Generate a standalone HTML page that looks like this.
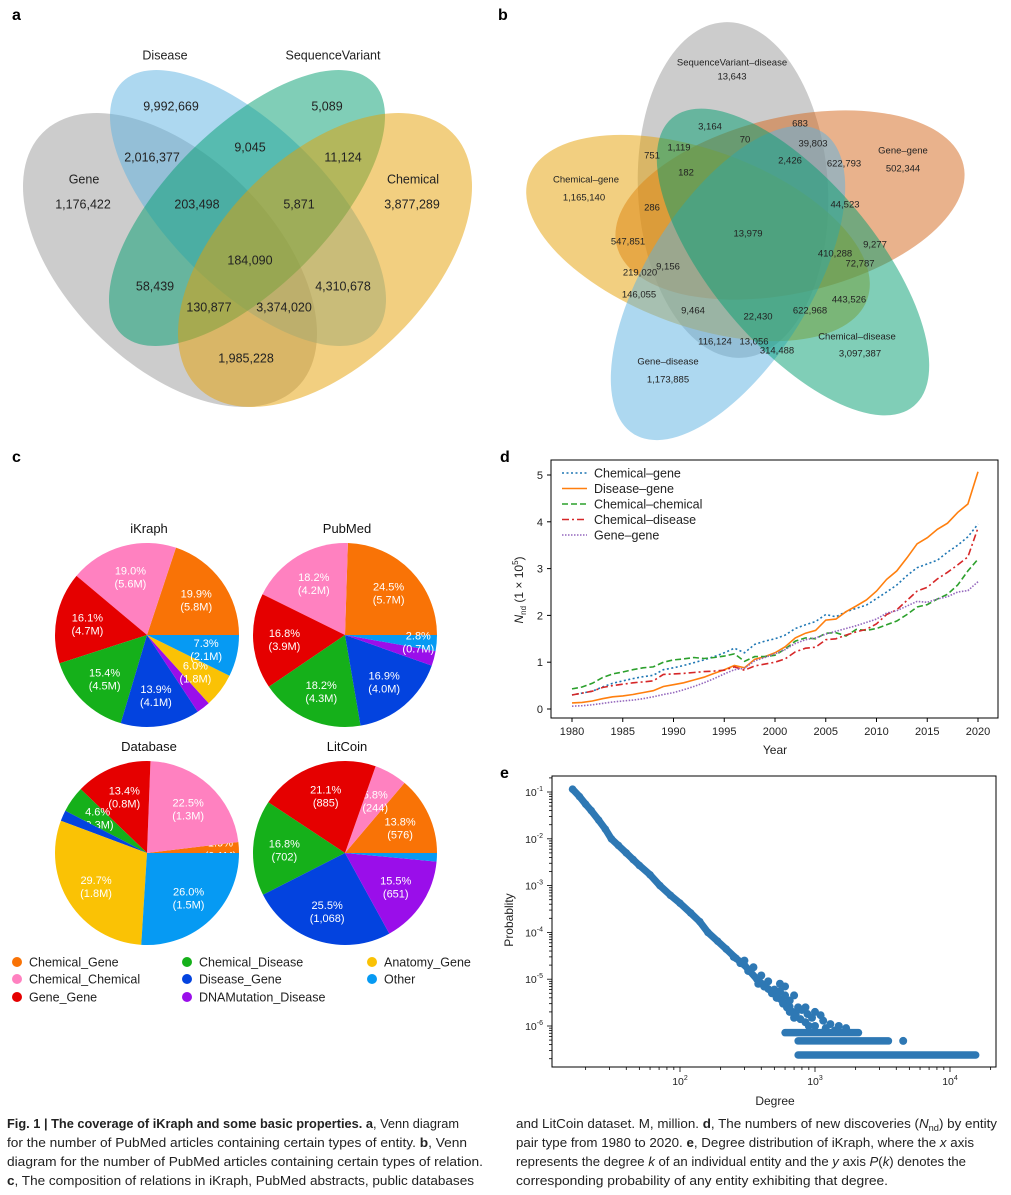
<!DOCTYPE html>
<html><head><meta charset="utf-8"><style>
body{margin:0;background:#fff;}
svg{display:block;font-family:"Liberation Sans",sans-serif;}
</style></head><body>
<svg id="fig" width="1011" height="1195" viewBox="0 0 1011 1195" xmlns="http://www.w3.org/2000/svg">
<g font-weight="bold" font-size="16" fill="#000">
<text x="12" y="20">a</text>
<text x="498" y="20">b</text>
<text x="12" y="462">c</text>
<text x="500" y="462">d</text>
<text x="500" y="778">e</text>
</g>

<!-- Venn a -->
<g>
<ellipse cx="170" cy="260" rx="180" ry="104" transform="rotate(45 170 260)" fill="#999" fill-opacity="0.5"/>
<ellipse cx="248" cy="208" rx="178" ry="80" transform="rotate(45 248 208)" fill="#5bb1e1" fill-opacity="0.5"/>
<ellipse cx="247" cy="208" rx="178" ry="80" transform="rotate(-45 247 208)" fill="#019d6f" fill-opacity="0.5"/>
<ellipse cx="325" cy="260" rx="180" ry="104" transform="rotate(-45 325 260)" fill="#e59f01" fill-opacity="0.5"/>
<g font-size="12.5" fill="#222" text-anchor="middle" dominant-baseline="middle">
<text x="165" y="56">Disease</text>
<text x="333" y="56">SequenceVariant</text>
<text x="84" y="180">Gene</text>
<text x="413" y="180">Chemical</text>
<text x="171" y="107">9,992,669</text>
<text x="327" y="107">5,089</text>
<text x="152" y="158">2,016,377</text>
<text x="250" y="148">9,045</text>
<text x="343" y="158">11,124</text>
<text x="83" y="205">1,176,422</text>
<text x="197" y="205">203,498</text>
<text x="299" y="205">5,871</text>
<text x="412" y="205">3,877,289</text>
<text x="250" y="261">184,090</text>
<text x="155" y="287">58,439</text>
<text x="343" y="287">4,310,678</text>
<text x="209" y="308">130,877</text>
<text x="284" y="308">3,374,020</text>
<text x="246" y="359">1,985,228</text>
</g></g>

<!-- Venn b -->
<g>
<ellipse cx="733" cy="190" rx="95" ry="168" transform="rotate(-3 733 190)" fill="#999" fill-opacity="0.5"/>
<ellipse cx="790" cy="205" rx="178" ry="88" transform="rotate(-13 790 205)" fill="#d4651a" fill-opacity="0.5"/>
<ellipse cx="698" cy="238" rx="180" ry="88" transform="rotate(20 698 238)" fill="#e59f01" fill-opacity="0.5"/>
<ellipse cx="728" cy="283" rx="178" ry="82" transform="rotate(-58 728 283)" fill="#5bb1e1" fill-opacity="0.5"/>
<ellipse cx="793" cy="262" rx="188" ry="82" transform="rotate(50 793 262)" fill="#019d6f" fill-opacity="0.5"/>
<g font-size="9.5" fill="#222" text-anchor="middle" dominant-baseline="middle">
<text x="732" y="63">SequenceVariant–disease</text>
<text x="732" y="77">13,643</text>
<text x="710" y="127">3,164</text>
<text x="800" y="124">683</text>
<text x="745" y="140">70</text>
<text x="813" y="144">39,803</text>
<text x="679" y="148">1,119</text>
<text x="652" y="156">751</text>
<text x="790" y="161">2,426</text>
<text x="844" y="164">622,793</text>
<text x="903" y="151">Gene–gene</text>
<text x="903" y="169">502,344</text>
<text x="686" y="173">182</text>
<text x="586" y="180">Chemical–gene</text>
<text x="584" y="198">1,165,140</text>
<text x="652" y="208">286</text>
<text x="845" y="205">44,523</text>
<text x="748" y="234">13,979</text>
<text x="628" y="242">547,851</text>
<text x="875" y="245">9,277</text>
<text x="835" y="254">410,288</text>
<text x="860" y="264">72,787</text>
<text x="668" y="267">9,156</text>
<text x="640" y="273">219,020</text>
<text x="639" y="295">146,055</text>
<text x="849" y="300">443,526</text>
<text x="693" y="311">9,464</text>
<text x="758" y="317">22,430</text>
<text x="810" y="311">622,968</text>
<text x="857" y="337">Chemical–disease</text>
<text x="860" y="354">3,097,387</text>
<text x="715" y="342">116,124</text>
<text x="754" y="342">13,056</text>
<text x="777" y="351">314,488</text>
<text x="668" y="362">Gene–disease</text>
<text x="668" y="380">1,173,885</text>
</g></g>

<g id="pies"></g>
<g id="pieLegend"></g>
<g id="lineChart"></g>
<g id="scatter"></g>

<g font-size="13" fill="#222">
<text x="7" y="1128" textLength="452" lengthAdjust="spacingAndGlyphs"><tspan font-weight="bold">Fig. 1 | The coverage of iKraph and some basic properties. a</tspan>, Venn diagram</text>
<text x="7" y="1147" textLength="460" lengthAdjust="spacingAndGlyphs">for the number of PubMed articles containing certain types of entity. <tspan font-weight="bold">b</tspan>, Venn</text>
<text x="7" y="1166" textLength="476" lengthAdjust="spacingAndGlyphs">diagram for the number of PubMed articles containing certain types of relation.</text>
<text x="7" y="1185" textLength="467" lengthAdjust="spacingAndGlyphs"><tspan font-weight="bold">c</tspan>, The composition of relations in iKraph, PubMed abstracts, public databases</text>
<text x="516" y="1128" textLength="481" lengthAdjust="spacingAndGlyphs">and LitCoin dataset. M, million. <tspan font-weight="bold">d</tspan>, The numbers of new discoveries (<tspan font-style="italic">N</tspan><tspan font-size="9" dy="3">nd</tspan><tspan dy="-3">) by entity</tspan></text>
<text x="516" y="1147" textLength="458" lengthAdjust="spacingAndGlyphs">pair type from 1980 to 2020. <tspan font-weight="bold">e</tspan>, Degree distribution of iKraph, where the <tspan font-style="italic">x</tspan> axis</text>
<text x="516" y="1166" textLength="450" lengthAdjust="spacingAndGlyphs">represents the degree <tspan font-style="italic">k</tspan> of an individual entity and the <tspan font-style="italic">y</tspan> axis <tspan font-style="italic">P</tspan>(<tspan font-style="italic">k</tspan>) denotes the</text>
<text x="516" y="1185" textLength="372" lengthAdjust="spacingAndGlyphs">corresponding probability of any entity exhibiting that degree.</text>
</g>
</svg>

<script>
const NS = "http://www.w3.org/2000/svg";
function mk(tag, attrs, parent) { const e = document.createElementNS(NS, tag); for (const k in attrs) e.setAttribute(k, attrs[k]); parent.appendChild(e); return e; }

// ===== Pie data (panel c) =====
const pieCategories = ["Chemical_Gene","Chemical_Chemical","Gene_Gene","Chemical_Disease","Disease_Gene","DNAMutation_Disease","Anatomy_Gene","Other"];
const pieColors = ["#f97306","#ff81c0","#e50000","#15b01a","#0343df","#9a0eea","#fac205","#069af3"];
const pieTitles = ["iKraph","PubMed","Database","LitCoin"];
const ikraphPct = [19.9,19.0,16.1,15.4,13.9,2.4,6.0,7.3];
const ikraphCounts = ["5.8M","5.6M","4.7M","4.5M","4.1M","","1.8M","2.1M"];
const pubmedPct = [24.5,18.2,16.8,18.2,16.9,2.6,0,2.8];
const pubmedCounts = ["5.7M","4.2M","3.9M","4.3M","4.0M","","","0.7M"];
const databasePct = [1.9,22.5,13.4,4.6,1.9,0,29.7,26.0];
const databaseCounts = ["0.1M","1.3M","0.8M","0.3M","","","1.8M","1.5M"];
const litcoinPct = [13.8,5.8,21.1,16.8,25.5,15.5,0,1.5];
const litcoinCounts = ["576","244","885","702","1,068","651","",""];

const pies = document.getElementById("pies");
const pieSets = [[ikraphPct,ikraphCounts,147,635],[pubmedPct,pubmedCounts,345,635],[databasePct,databaseCounts,147,853],[litcoinPct,litcoinCounts,345,853]];
pieSets.forEach((ps, pi) => {
  const [pct, cnt, cx, cy] = ps; const r = 92;
  const g = mk("g", {}, pies);
  
  
  const t = mk("text", {x: cx+2, y: cy - r - 10, "text-anchor": "middle", "font-size": 13, fill: "#111"}, g);
  t.textContent = pieTitles[pi];
  
  
  const total = pct.reduce((a,b)=>a+b,0);
  let a0 = 0;
  pct.forEach((v, i) => {
    if (v <= 0) return;
    const a1 = a0 + v/total*2*Math.PI;
    const x0 = cx + r*Math.cos(a0), y0 = cy - r*Math.sin(a0);
    const x1 = cx + r*Math.cos(a1), y1 = cy - r*Math.sin(a1);
    const large = (a1 - a0) > Math.PI ? 1 : 0;
    const p = mk("path", {d: `M${cx},${cy}L${x0},${y0}A${r},${r} 0 ${large} 0 ${x1},${y1}Z`, fill: pieColors[i]}, g);
    
    
    if (cnt[i]) {
      const am = (a0 + a1)/2, lr = (v < 3 ? 0.8 : 0.66) * r;
      const lx = cx + lr*Math.cos(am), ly = cy - lr*Math.sin(am);
      const tt = mk("text", {x: lx, y: ly - 2, "text-anchor": "middle", "font-size": 11, fill: "#fff"}, g);
      
      
      const s1 = mk("tspan", {x: lx, dy: 0}, tt); s1.textContent = v.toFixed(1) + "%";
      const s2 = mk("tspan", {x: lx, dy: 13}, tt); s2.textContent = "(" + cnt[i] + ")";
    }
    a0 = a1;
  });
});

// legend (column-major, 3 rows)
const pl = document.getElementById("pieLegend");
pieCategories.forEach((name, k) => {
  const col = Math.floor(k/3), row = k%3;
  const x = [17,187,372][col], y = [962,979,997][row];
  const g = mk("g", {}, pl);
  
  
  mk("circle", {cx: x, cy: y, r: 5, fill: pieColors[k]}, g);
  const t = mk("text", {x: x+12, y: y+4.5, "font-size": 12.5, fill: "#222"}, g);
  t.textContent = name;
});

// ===== Line chart (panel d) =====
const years = [1980,1981,1982,1983,1984,1985,1986,1987,1988,1989,1990,1991,1992,1993,1994,1995,1996,1997,1998,1999,2000,2001,2002,2003,2004,2005,2006,2007,2008,2009,2010,2011,2012,2013,2014,2015,2016,2017,2018,2019,2020];
const chemicalGene = [0.3,0.34,0.38,0.47,0.55,0.6,0.65,0.69,0.72,0.84,0.88,0.93,0.99,1.05,1.12,1.2,1.3,1.2,1.38,1.45,1.5,1.58,1.72,1.8,1.87,2.02,1.97,2.08,2.15,2.22,2.36,2.5,2.65,2.85,3.02,3.1,3.18,3.35,3.5,3.68,3.95];
const diseaseGene = [0.13,0.14,0.17,0.22,0.26,0.28,0.31,0.35,0.39,0.48,0.52,0.56,0.62,0.68,0.76,0.84,0.93,0.88,1.06,1.12,1.2,1.33,1.52,1.62,1.68,1.9,1.92,2.08,2.2,2.33,2.52,2.77,2.95,3.23,3.53,3.66,3.84,3.97,4.2,4.38,5.07];
const chemicalChemical = [0.43,0.47,0.55,0.67,0.75,0.79,0.84,0.88,0.9,1.0,1.05,1.07,1.1,1.08,1.1,1.13,1.18,1.02,1.12,1.12,1.15,1.28,1.45,1.52,1.5,1.62,1.63,1.56,1.7,1.68,1.72,1.8,1.88,2.02,2.18,2.23,2.35,2.45,2.65,2.95,3.2];
const chemicalDisease = [0.3,0.34,0.38,0.46,0.5,0.53,0.56,0.58,0.6,0.74,0.75,0.76,0.78,0.8,0.81,0.83,0.9,0.83,0.92,0.96,1.0,1.07,1.22,1.3,1.32,1.48,1.5,1.58,1.65,1.7,1.82,2.02,2.12,2.32,2.52,2.6,2.78,2.92,3.08,3.25,3.87];
const geneGene = [0.06,0.07,0.09,0.12,0.15,0.17,0.19,0.22,0.26,0.31,0.35,0.41,0.48,0.56,0.65,0.75,0.84,0.87,1.03,1.1,1.18,1.27,1.4,1.48,1.52,1.6,1.66,1.72,1.78,1.85,1.92,2.05,2.1,2.2,2.3,2.28,2.35,2.4,2.5,2.53,2.72];
const seriesNames = ["Chemical–gene","Disease–gene","Chemical–chemical","Chemical–disease","Gene–gene"];
const xTicksD = [1980,1985,1990,1995,2000,2005,2010,2015,2020];
const yTicksD = [0,1,2,3,4,5];

(function(){
  const g = document.getElementById("lineChart");
  const X = yr => 572 + (yr - 1980) * (978 - 572) / 40;
  const Y = v => 709 - v * (709 - 475) / 5;
  mk("rect", {x: 551, y: 460, width: 447, height: 258, fill: "none", stroke: "#000", "stroke-width": 1}, g);
  xTicksD.forEach(t => {
    mk("line", {x1: X(t), x2: X(t), y1: 718, y2: 722, stroke: "#000"}, g);
    const tx = mk("text", {x: X(t), y: 735, "text-anchor": "middle", "font-size": 11, fill: "#222"}, g); tx.textContent = t;
    
    
  });
  yTicksD.forEach(t => {
    mk("line", {x1: 547, x2: 551, y1: Y(t), y2: Y(t), stroke: "#000"}, g);
    const tx = mk("text", {x: 543, y: Y(t) + 4, "text-anchor": "end", "font-size": 11, fill: "#222"}, g); tx.textContent = t;
    
    
  });
  const xl = mk("text", {x: 775, y: 754, "text-anchor": "middle", "font-size": 12, fill: "#222"}, g); xl.textContent = "Year";
  
  
  const yl = mk("text", {transform: "translate(523,590) rotate(-90)", "text-anchor": "middle", "font-size": 12, fill: "#222"}, g);
  
  
  yl.innerHTML = '<tspan font-style="italic">N</tspan><tspan font-size="8" dy="3">nd</tspan><tspan dy="-3"> (1 × 10</tspan><tspan font-size="8" dy="-5">5</tspan><tspan dy="5">)</tspan>';
  const series = [chemicalGene, diseaseGene, chemicalChemical, chemicalDisease, geneGene];
  const colors = ["#1f77b4","#ff7f0e","#2ca02c","#d62728","#9467bd"];
  const dashes = ["2,2.5","none","6,3","7,3,2,3","1.5,1.5"];
  series.forEach((s, i) => {
    const d = s.map((v, j) => (j ? "L" : "M") + X(years[j]).toFixed(1) + "," + Y(v).toFixed(1)).join("");
    const p = mk("path", {d, fill: "none", stroke: colors[i], "stroke-width": 1.6, "stroke-dasharray": dashes[i]}, g);
    
    
    const ly = 473 + i * 15.5;
    const lg = mk("g", {}, g);
    
    
    mk("line", {x1: 562, x2: 587, y1: ly, y2: ly, stroke: colors[i], "stroke-width": 1.6, "stroke-dasharray": dashes[i]}, lg);
    const t = mk("text", {x: 594, y: ly + 4.5, "font-size": 12.5, fill: "#222"}, lg); t.textContent = seriesNames[i];
  });
})();

// ===== Scatter (panel e) =====
const mainDegree = [16,18,20,22,25,28,31,35,40,45,50,60,71,85,100,120,140,161,190,220,260,300,371,450,550,650];
const mainProb = [0.115,0.08,0.055,0.04,0.025,0.016,0.01,0.0072,0.005,0.0036,0.0027,0.0017,0.001,0.00062,0.00042,0.00026,0.00017,0.0001,0.000065,0.000044,0.000028,0.00002,0.00001,0.0000062,0.0000038,0.0000026];
const cloudDegree = [250,280,300,320,350,380,400,420,450,480,500,520,550,580,600,620,650,680,700,720,750,780,800,850,880,900,950,1000,1100,1200,1300,1400,1500,1700,600,550,650,700,850,1000,1150];
const cloudProb = [3e-5,2.2e-5,2.5e-5,1.5e-5,1.8e-5,8e-6,1.2e-5,7e-6,9e-6,5e-6,6e-6,4e-6,5.5e-6,3e-6,4.5e-6,2.5e-6,3.5e-6,2e-6,4.5e-6,1.8e-6,2.5e-6,1.4e-6,2.2e-6,1.2e-6,1.8e-6,1e-6,1.5e-6,1e-6,1.7e-6,9e-7,1.1e-6,8e-7,1e-6,9e-7,7e-6,8e-6,2e-6,1.5e-6,2.5e-6,2e-6,1.3e-6];
const bandProb = [7.2e-7,4.8e-7,2.4e-7];
const bandMinDegree = [600,750,750];
const bandMaxDegree = [2100,3500,15500];
const outlierDegree = [4500];
const outlierProb = [4.8e-7];
const xTickExp = [2,3,4];
const yTickExp = [-1,-2,-3,-4,-5,-6];

(function(){
  const g = document.getElementById("scatter");
  const X = k => 680 + (Math.log10(k) - 2) * 135;
  const Y = p => 792 + (-1 - Math.log10(p)) * 46.8;
  const col = "#2e78b4";
  mk("rect", {x: 552, y: 776, width: 444, height: 291, fill: "none", stroke: "#000", "stroke-width": 1}, g);
  for (let e = 1; e <= 4; e++) for (let m = 1; m < 10; m++) {
    const k = m * Math.pow(10, e); const x = X(k);
    if (x < 552 || x > 996) continue;
    mk("line", {x1: x, x2: x, y1: 1067, y2: 1067 + (m === 1 ? 5 : 3), stroke: "#000", "stroke-width": 0.8}, g);
  }
  xTickExp.forEach(e => {
    const t = mk("text", {x: X(Math.pow(10, e)), y: 1085, "text-anchor": "middle", "font-size": 10.5, fill: "#222"}, g);
    
    
    t.innerHTML = '10<tspan font-size="7" dy="-5">' + e + '</tspan>';
  });
  for (let e = -7; e <= -1; e++) for (let m = 1; m < 10; m++) {
    const p = m * Math.pow(10, e); const y = Y(p);
    if (y < 776 || y > 1067) continue;
    mk("line", {x1: 552 - (m === 1 ? 5 : 3), x2: 552, y1: y, y2: y, stroke: "#000", "stroke-width": 0.8}, g);
  }
  yTickExp.forEach(e => {
    const t = mk("text", {x: 543, y: Y(Math.pow(10, e)) + 4, "text-anchor": "end", "font-size": 10.5, fill: "#222"}, g);
    
    
    t.innerHTML = '10<tspan font-size="7" dy="-5">' + e + '</tspan>';
  });
  const xl = mk("text", {x: 775, y: 1105, "text-anchor": "middle", "font-size": 12, fill: "#222"}, g); xl.textContent = "Degree";
  
  
  const yl = mk("text", {transform: "translate(513,920) rotate(-90)", "text-anchor": "middle", "font-size": 12, fill: "#222"}, g); yl.textContent = "Probablity";
  
  
  const d = mainDegree.map((k, i) => (i ? "L" : "M") + X(k).toFixed(1) + "," + Y(mainProb[i]).toFixed(1)).join("");
  const line = mk("path", {d, fill: "none", stroke: col, "stroke-width": 7, "stroke-linecap": "round", "stroke-linejoin": "round"}, g);
  
  
  mainDegree.forEach((k, i) => {
    const c = mk("circle", {cx: X(k), cy: Y(mainProb[i]), r: 3.8, fill: col}, g);
    
    
  });
  cloudDegree.forEach((k, i) => {
    const c = mk("circle", {cx: X(k), cy: Y(cloudProb[i]), r: 4, fill: col}, g);
    
    
  });
  bandProb.forEach((p, i) => {
    const b = mk("line", {x1: X(bandMinDegree[i]), x2: X(bandMaxDegree[i]), y1: Y(p), y2: Y(p), stroke: col, "stroke-width": 7.5, "stroke-linecap": "round"}, g);
    
    
  });
  outlierDegree.forEach((k, i) => {
    const c = mk("circle", {cx: X(k), cy: Y(outlierProb[i]), r: 4, fill: col}, g);
    
    
  });
})();
</script>
</body></html>
